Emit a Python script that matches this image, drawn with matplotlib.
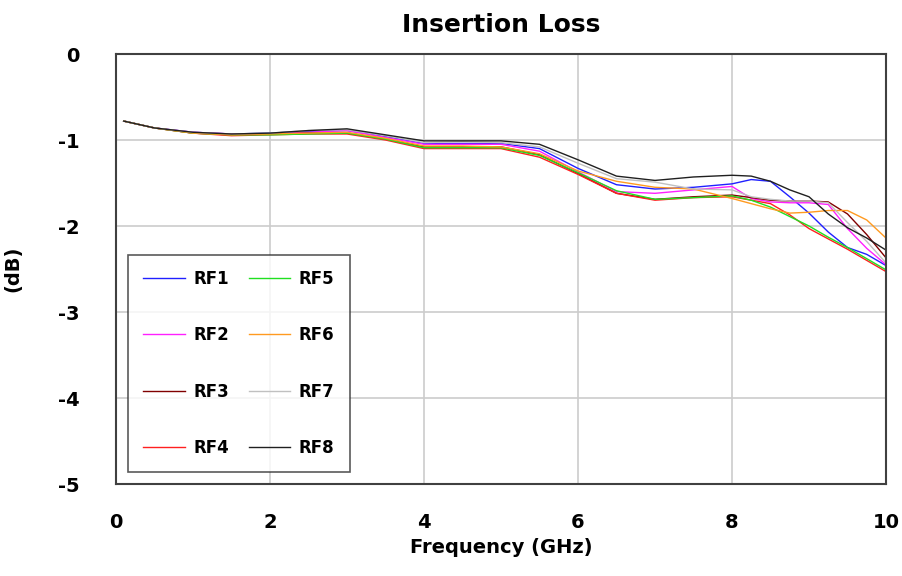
import numpy as np
import matplotlib
matplotlib.use("Agg")
import matplotlib.pyplot as plt

plt.rcParams['font.family'] = ['DejaVu Sans']
plt.rcParams['font.weight'] = 'bold'
plt.rcParams['axes.unicode_minus'] = False

freq = [0.1, 0.5, 1.0, 1.5, 2.0, 2.5, 3.0, 3.5, 4.0, 4.5, 5.0, 5.5, 6.0,
        6.5, 7.0, 7.5, 8.0, 8.25, 8.5, 8.75, 9.0, 9.25, 9.5, 9.75, 10.0]

rf1 = [-0.78, -0.86, -0.91, -0.93, -0.92, -0.90, -0.89, -0.96, -1.04, -1.04, -1.04, -1.10, -1.33,
       -1.52, -1.57, -1.55, -1.51, -1.46, -1.48, -1.66, -1.85, -2.07, -2.25, -2.33, -2.46]
rf2 = [-0.78, -0.86, -0.91, -0.93, -0.93, -0.91, -0.89, -0.97, -1.05, -1.05, -1.05, -1.13, -1.37,
       -1.60, -1.62, -1.58, -1.54, -1.68, -1.72, -1.73, -1.73, -1.75, -2.03, -2.26, -2.45]
rf3 = [-0.78, -0.86, -0.92, -0.94, -0.93, -0.92, -0.92, -0.99, -1.08, -1.08, -1.08, -1.17, -1.39,
       -1.62, -1.69, -1.66, -1.64, -1.67, -1.70, -1.71, -1.71, -1.72, -1.86, -2.10, -2.37]
rf4 = [-0.78, -0.86, -0.92, -0.95, -0.94, -0.93, -0.93, -1.00, -1.10, -1.10, -1.10, -1.20, -1.40,
       -1.62, -1.70, -1.67, -1.66, -1.70, -1.74, -1.87, -2.03, -2.15, -2.27, -2.40, -2.53]
rf5 = [-0.78, -0.86, -0.92, -0.94, -0.94, -0.93, -0.92, -0.99, -1.09, -1.09, -1.09, -1.18, -1.38,
       -1.59, -1.69, -1.67, -1.65, -1.70, -1.78, -1.89, -2.00, -2.13, -2.25, -2.38, -2.51]
rf6 = [-0.78, -0.86, -0.92, -0.94, -0.93, -0.92, -0.91, -0.98, -1.07, -1.07, -1.08, -1.16, -1.36,
       -1.48, -1.55, -1.57, -1.68, -1.74, -1.80, -1.85, -1.84, -1.82, -1.82, -1.93, -2.14]
rf7 = [-0.78, -0.86, -0.91, -0.93, -0.92, -0.89, -0.88, -0.95, -1.03, -1.02, -1.03, -1.08, -1.27,
       -1.45, -1.49, -1.57, -1.58, -1.66, -1.69, -1.71, -1.71, -1.73, -1.96, -2.18, -2.43]
rf8 = [-0.78, -0.86, -0.91, -0.93, -0.92, -0.89, -0.87, -0.94, -1.01, -1.01, -1.01, -1.05, -1.23,
       -1.42, -1.47, -1.43, -1.41, -1.42, -1.48, -1.58, -1.66, -1.86, -2.02, -2.14, -2.28]

names = ['RF1', 'RF2', 'RF3', 'RF4', 'RF5', 'RF6', 'RF7', 'RF8']
series = [rf1, rf2, rf3, rf4, rf5, rf6, rf7, rf8]
colors = ['#2020ff', '#ff20ff', '#800000', '#ff2020', '#20e020', '#ff9a20', '#c0c0c0', '#202020']

fig = plt.figure(figsize=(9.03, 5.76), dpi=100)
ax = fig.add_axes([116 / 903, 92 / 576, 770 / 903, 430 / 576])

for name, vals, c in zip(names, series, colors):
    ax.plot(freq, vals, color=c, lw=1.0, label=name)

ax.set_xlim(0, 10)
ax.set_ylim(-5, 0)
ax.set_xticks([0, 2, 4, 6, 8, 10])
ax.set_yticks([0, -1, -2, -3, -4, -5])
ax.grid(True, color='#cccccc', lw=1.2)
ax.tick_params(length=0, labelsize=14)
ax.tick_params(axis='x', pad=21)
ax.tick_params(axis='y', pad=26)
for lab in ax.get_xticklabels() + ax.get_yticklabels():
    lab.set_fontweight('bold')
for s in ax.spines.values():
    s.set_color('#404040')
    s.set_linewidth(1.5)

ax.set_title('Insertion Loss', fontsize=18, fontweight='bold', pad=16)
ax.set_xlabel('Frequency (GHz)', fontsize=14, fontweight='bold', labelpad=4)
ax.set_ylabel('(dB)', fontsize=14, fontweight='bold', labelpad=26)

leg = ax.legend(ncol=2, loc='lower left', bbox_to_anchor=(0.0156, 0.028),
                fontsize=12, frameon=True, fancybox=False, edgecolor='#303030',
                handlelength=2.5, handletextpad=0.5, columnspacing=1.2,
                labelspacing=2.3, borderpad=0.9, borderaxespad=0)
leg.get_frame().set_linewidth(1.2)
for t in leg.get_texts():
    t.set_fontweight('bold')

fig.savefig('out.png', dpi=100)
